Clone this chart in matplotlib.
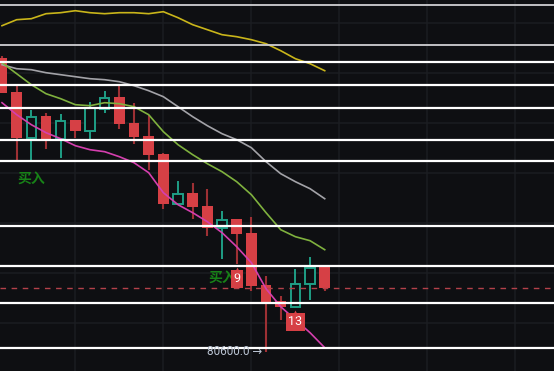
import numpy as np
import matplotlib.pyplot as plt
from matplotlib.patches import Rectangle
from matplotlib.transforms import offset_copy

# OHLC candles
opens = [83540, 83200, 82740, 82960, 82730, 82920, 82810, 83030, 83150, 82890, 82760, 82580,
         82080, 82190, 82060, 81840, 81930, 81790, 81270, 81110, 81050, 81280, 81450]
highs = [83560, 83260, 83020, 82990, 82980, 82920, 83100, 83210, 83260, 83090, 82970, 82590,
         82310, 82290, 82230, 82010, 81930, 81950, 81360, 81160, 81430, 81550, 81460]
lows = [83190, 82520, 82520, 82630, 82540, 82740, 82730, 82990, 82830, 82680, 82420, 82030,
        82080, 81930, 81760, 81530, 81480, 81210, 80600, 80920, 81050, 81120, 81210]
closes = [83190, 82740, 82950, 82730, 82910, 82810, 83040, 83140, 82880, 82750, 82570, 82080,
          82180, 82050, 81840, 81920, 81780, 81260, 81100, 81050, 81280, 81440, 81240]

# moving averages
ma_yellow = [83860, 83920, 83930, 83980, 83990, 84010, 83990, 83980, 83990, 83990, 83980, 84000,
             83940, 83870, 83820, 83770, 83750, 83720, 83680, 83610, 83530, 83480, 83410]
ma_grey = [83470, 83430, 83420, 83390, 83370, 83350, 83330, 83320, 83300, 83260, 83210, 83150,
           83050, 82950, 82860, 82780, 82720, 82640, 82500, 82380, 82300, 82230, 82130]
ma_green = [83490, 83380, 83270, 83180, 83130, 83070, 83060, 83090, 83080, 83050, 82970, 82800,
            82670, 82570, 82480, 82400, 82300, 82170, 81990, 81820, 81750, 81710, 81620]
ma_pink = [83090, 82970, 82870, 82790, 82730, 82660, 82620, 82600, 82550, 82490, 82390, 82190,
           82070, 81990, 81900, 81790, 81650, 81490, 81230, 81050, 80920, 80790, 80640]

# horizontal price levels
levels_grey = [84070, 83670]
levels_white = [83500, 83270, 83040, 82720, 82510, 81860, 81460, 81090, 80640]

buy_idx = [2, 15]
count_marks = {16: "9", 20: "13"}
low_idx = 18

bg = "#0e0f12"
red = "#d64045"
red_wick = "#9e3034"
teal = "#1f9e86"

fig = plt.figure(figsize=(5.54, 3.71), dpi=100)
fig.patch.set_facecolor(bg)
ax = fig.add_axes([0, 0, 1, 1])
ax.set_facecolor(bg)
ax.set_xlim(-0.136, 37.63)
ax.set_ylim(80407, 84117)
for s in ax.spines.values():
    s.set_visible(False)
ax.set_xticks([5, 11, 17, 23, 29, 35])
ax.set_yticks(np.arange(80890, 84117, 500))
ax.grid(color="#1b1d21", lw=1.1)
ax.set_axisbelow(True)
ax.tick_params(length=0, labelbottom=False, labelleft=False)

w = 0.73
for i in range(len(opens)):
    o, h, l, c = opens[i], highs[i], lows[i], closes[i]
    if c < o:
        ax.vlines(i, l, h, color=red_wick, lw=1.5, zorder=2)
        ax.add_patch(Rectangle((i - w / 2, c), w, o - c, facecolor=red, edgecolor="none", zorder=3))
    else:
        ax.vlines(i, l, o, color=teal, lw=1.4, zorder=2)
        ax.vlines(i, c, h, color=teal, lw=1.4, zorder=2)
        ax.add_patch(Rectangle((i - w / 2 + 0.05, o), w - 0.1, c - o, facecolor=bg,
                               edgecolor=teal, lw=1.4, zorder=3))

x = np.arange(len(opens))
ax.plot(x, ma_yellow, color="#c9b51a", lw=1.2, zorder=4)
ax.plot(x, ma_grey, color="#a3a3a8", lw=1.2, zorder=4)
ax.plot(x, ma_green, color="#7fb13e", lw=1.2, zorder=4)
ax.plot(x, ma_pink, color="#d53fae", lw=1.2, zorder=4)

for v in levels_grey:
    ax.axhline(v, color="#cfcfd2", lw=1.3, zorder=5)
for v in levels_white:
    ax.axhline(v, color="white", lw=1.6, zorder=5)

ax.axhline(closes[-1], color="#b3414a", lw=1, ls=(0, (4, 4)), zorder=4)

for i in buy_idx:
    ax.annotate("买入", (i, lows[i]), xytext=(0, -14), textcoords="offset points",
                ha="center", va="center", fontsize=10, color="#178217", weight="bold",
                family=["Noto Sans CJK SC", "DejaVu Sans"], zorder=6)

for i, t in count_marks.items():
    ax.annotate(t, (i, lows[i]), xytext=(0, -11), textcoords="offset points",
                ha="center", va="center", fontsize=9, color="white", family="Roboto",
                bbox=dict(boxstyle="square,pad=0.2", fc=red, ec="none"), zorder=7)
    tip = offset_copy(ax.transData, fig=fig, x=0, y=-4.2, units="points")
    ax.plot(i, lows[i], marker="^", ms=5, color=red, mec="none", zorder=7, transform=tip)

ax.annotate("%.1f →" % lows[low_idx], (low_idx, lows[low_idx]), xytext=(-3, 0),
            textcoords="offset points", ha="right", va="center", fontsize=8.5,
            color="#b9c3d2", family=["Roboto", "DejaVu Sans"], zorder=6)

fig.savefig("out.png", dpi=100, facecolor=bg)
